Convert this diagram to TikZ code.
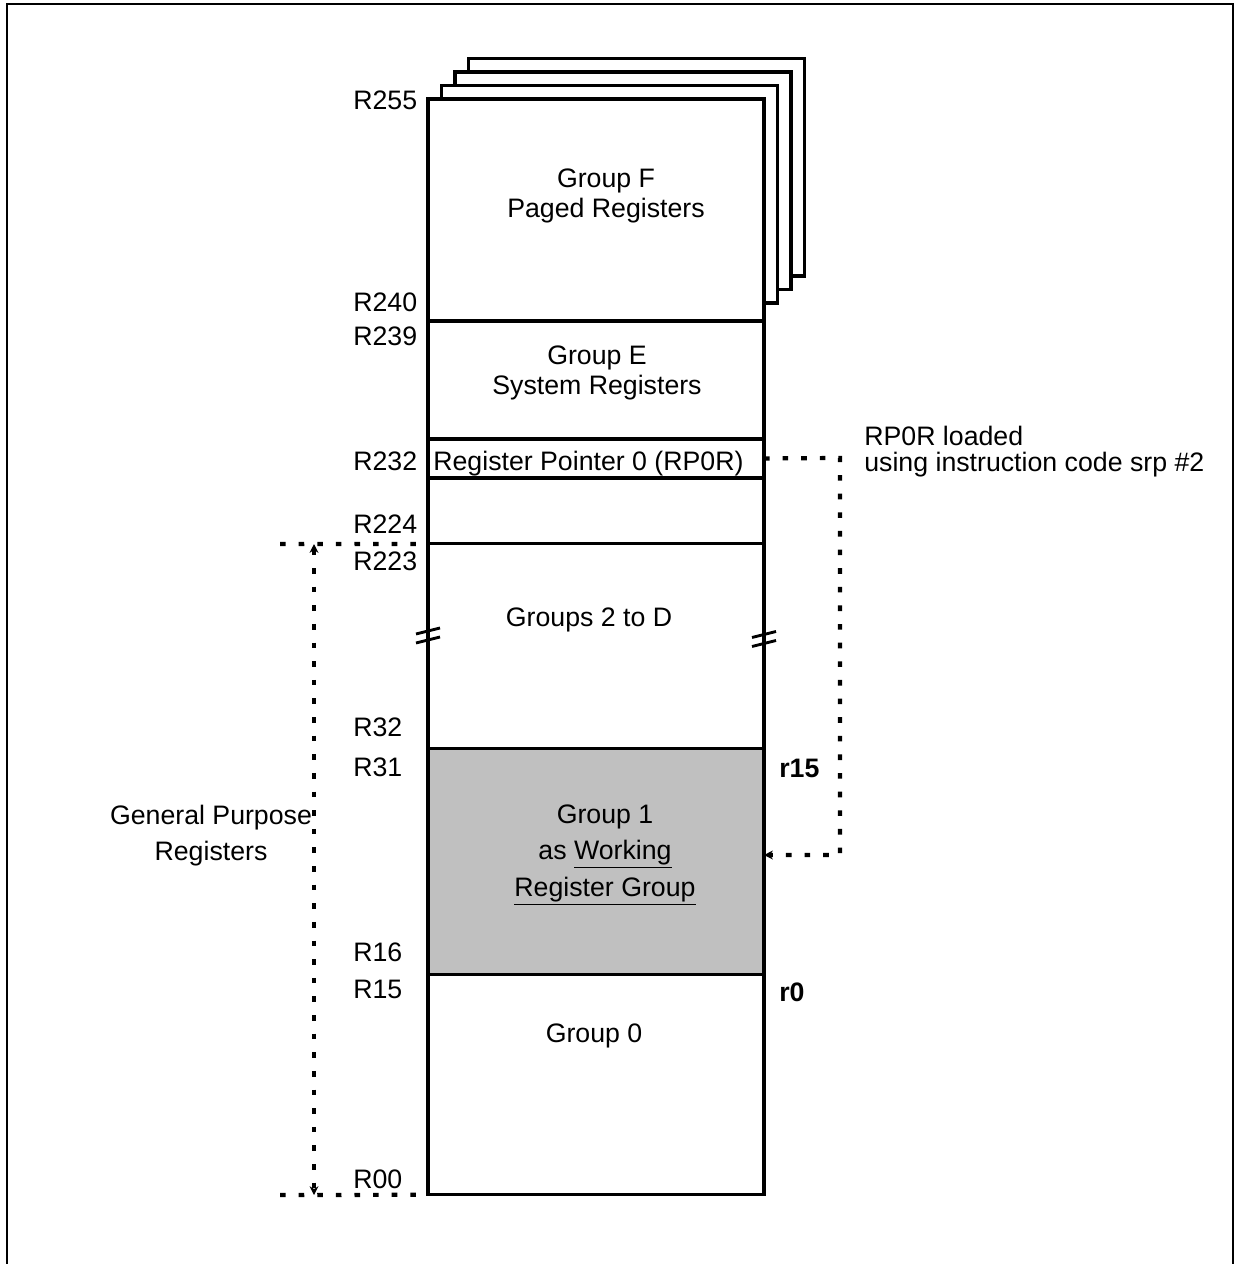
\documentclass[tikz,border=0pt]{standalone}
\usepackage{fontspec}
\setmainfont{Liberation Sans}
\usepackage{xcolor}
\usetikzlibrary{arrows.meta,calc}

\definecolor{wrkgray}{RGB}{192,192,192}
\newcommand{\regfont}{\fontsize{15.2}{17}\selectfont}

\begin{document}
\begin{tikzpicture}[x=0.02cm, y=-0.02cm, >={Stealth[length=5pt,width=5pt]},
    every node/.style={font=\regfont, inner sep=0pt},
    regbox/.style={draw, line width=1.8pt, outer sep=0pt, minimum width=6.72cm, anchor=north},
    pagebox/.style={line width=1.8pt, line join=miter},
    reglbl/.style={anchor=west},
    dotline/.style={line width=2.4pt, dash pattern=on 3.2pt off 7.4pt},
    brk/.style={line width=1.6pt}]

  \useasboundingbox (0,0) rectangle (1239,1264);
  % outer frame, open at the bottom
  \draw[line width=1.2pt] (7,1264) -- (7,4) -- (1233,4) -- (1233,1264);

  % register file column
  \node[regbox, minimum height=4.44cm] (grpF) at (596,99) {};
  \node[regbox, minimum height=2.36cm] (grpE) at (grpF.south) {};
  \node[regbox, minimum height=0.78cm] (rp0r) at (grpE.south) {};
  \node[regbox, minimum height=1.32cm] (grpElow) at (rp0r.south) {};
  \node[regbox, minimum height=4.10cm] (grp2D) at (grpElow.south) {};
  \node[regbox, minimum height=4.52cm, fill=wrkgray] (grp1) at (grp2D.south) {};
  \node[regbox, minimum height=4.40cm] (grp0) at (grp1.south) {};

  % pages behind group F
  \foreach \i in {1,2,3} {
    \pgfmathsetmacro\d{13.5*\i}
    \pgfmathsetmacro\e{13.5*(\i-1)}
    \draw[pagebox] ($(grpF.north west)+(\d,-\e)$) |- ($(grpF.north east)+(\d,-\d)$)
      -- ($(grpF.south east)+(\d,-4.5-\d)$) -- ++(-13.5,0);
  }

  % break marks
  \foreach \bx/\by in {428/631, 764/634.5} {
    \draw[brk] (\bx-12,\by+3) -- (\bx+12,\by-3);
    \draw[brk] (\bx-12,\by+12) -- (\bx+12,\by+6);
  }

  % texts in the column
  \node[align=center] (txtF) at (606,196) {Group F\\Paged Registers};
  \node[align=center] (txtE) at (597,373) {Group E\\System Registers};
  \node[anchor=base west] (rpTxt) at (433,470) {Register Pointer 0 (RP0R)};
  \node (txt2D) at (589,620) {Groups 2 to D};
  \node[align=center, font=\fontsize{15.2}{20.7}\selectfont] (txt1) at (605,855)
      {Group 1\\as \underline{Working}\\\underline{Register Group}};
  \node (txt0) at (594,1036) {Group 0};

  % register numbers
  \foreach \t/\y in {R255/100, R240/302, R239/336, R232/461, R224/524, R223/561,
                     R32/727, R31/767, R16/952, R15/989, R00/1179}
    \node[reglbl] (lbl\t) at (353,\y) {\t};
  \node[reglbl, font=\regfont\bfseries] (r15) at (779,768) {r15};
  \node[reglbl, font=\regfont\bfseries] (r0) at (779,992) {r0};

  % general purpose range
  \node[align=center, font=\fontsize{15.2}{20.5}\selectfont] (gprTxt) at (211,836)
      {General Purpose\\Registers};
  \coordinate (gpTopL) at (280,544);
  \coordinate (gpBotL) at (280,1195);
  \coordinate (gpTop) at (314,544);
  \coordinate (gpBot) at (314,1195);
  \draw[dotline] (gpTopL) -- (grp2D.north west);
  \draw[dotline] (gpBotL) -- (grp0.south west);
  \draw[dotline, <->] (gpTop) -- (gpBot);

  % RP0R load
  \node[anchor=west, align=left, font=\fontsize{15.2}{14.8}\selectfont] (rpNote) at (864,452)
      {RP0R loaded\\using instruction code srp \#2};
  \coordinate (rpTurn) at (840,458);
  \coordinate (wrkIn) at (764,855);
  \draw[dotline, ->] (rp0r.east) -- (rpTurn) |- (wrkIn);
\end{tikzpicture}
\end{document}
